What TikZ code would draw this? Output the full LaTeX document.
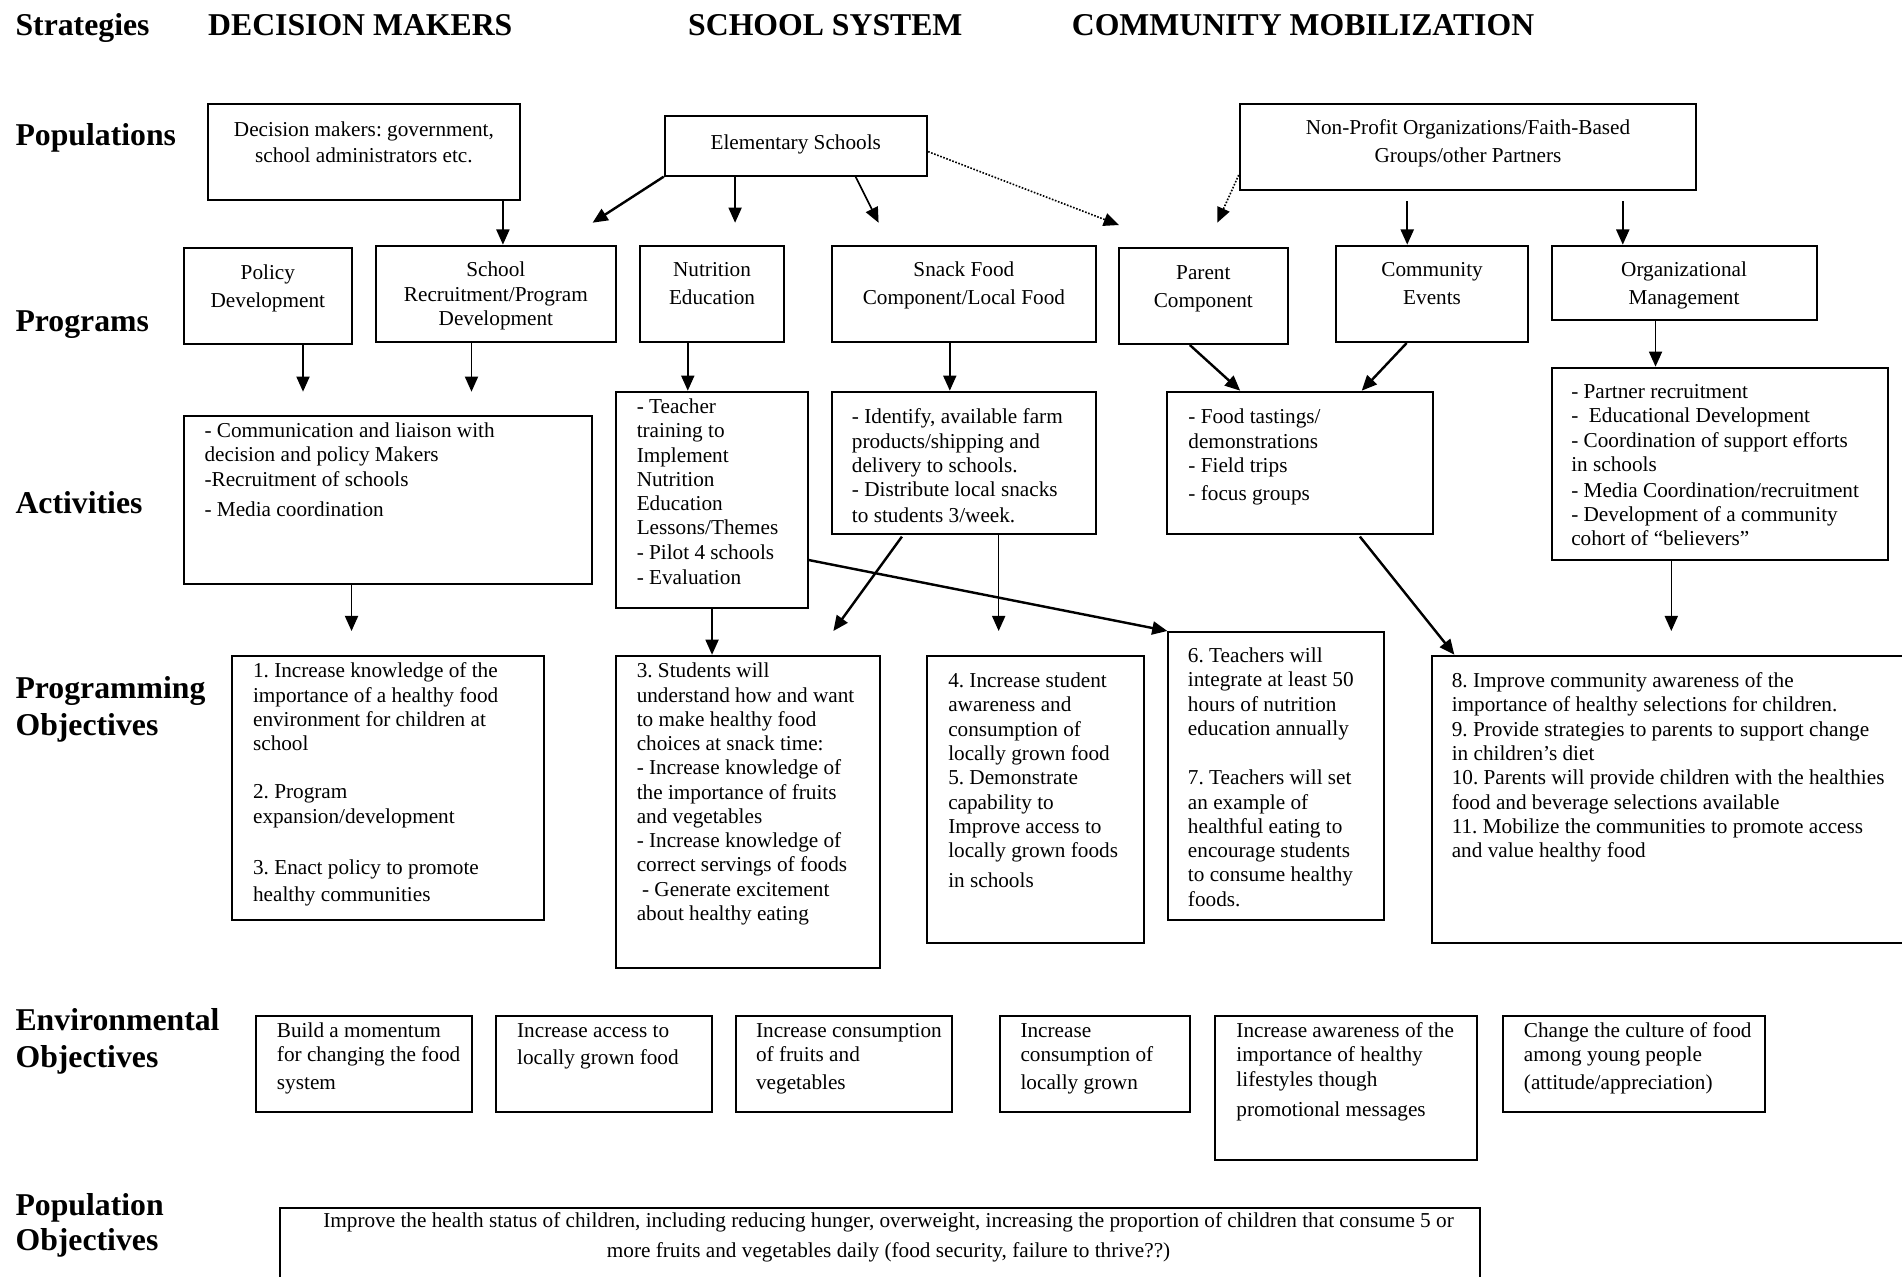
\documentclass[tikz,border=0pt]{standalone}
\usepackage{fontspec}
\setmainfont{Liberation Serif}
\usetikzlibrary{arrows.meta,fit}
\frenchspacing
\newcommand\mkbox[5]{\node[box,fit={(#2,#3) (#4,#5)}] (#1) {};}
\newcommand\bodytxt[4]{\node[txt] (#1) at (#2,{#3-8}) {\strut #4};}
\newcommand\centtxt[4]{\node[ctxt] (#1) at (#2,{#3-8}) {\strut #4};}
\begin{document}
\begin{tikzpicture}[x=0.6pt,y=-0.6pt,
  box/.style={draw,line width=1pt,inner sep=0pt},
  txt/.style={inner sep=0pt,align=left,anchor=north west,font=\fontsize{10.5}{12}\selectfont},
  ctxt/.style={inner sep=0pt,align=center,anchor=north,font=\fontsize{10.5}{12}\selectfont},
  head/.style={inner sep=0pt,anchor=base west,font=\fontsize{15.7}{18}\selectfont\bfseries},
  headtwo/.style={inner sep=0pt,anchor=north west,align=left,font=\fontsize{15.7}{18}\selectfont\bfseries},
  arr/.style={line width=0.8pt,-{Triangle[length=7.5pt,width=6.5pt]}},
  thick arr/.style={line width=1.2pt,-{Triangle[length=7.5pt,width=6.5pt]}},
  dot arr/.style={line width=0.8pt,dash pattern=on 0.8pt off 0.8pt,-{Triangle[length=7.5pt,width=6.5pt]}},
]
\fill[white] (0,0) rectangle (1568,1052);
\useasboundingbox (0,0) rectangle (1568,1052);
\clip (0,0) rectangle (1568,1052);

% headings
\node[head] (hstr) at (12.5,29.5) {Strategies};
\node[head] (hdm) at (171.3,29.5) {DECISION MAKERS};
\node[head] (hss) at (567,29.5) {SCHOOL SYSTEM};
\node[head] (hcm) at (883.3,29.5) {COMMUNITY MOBILIZATION};
\node[head] (lpop) at (12.5,120) {Populations};
\node[head] (lprog) at (12.5,273) {Programs};
\node[head] (lact) at (12.5,423) {Activities};
\node[headtwo] (lpo) at (12.5,{575.5-21}) {\strut Programming\\[0.3pt]Objectives};
\node[headtwo] (leo) at (12.5,{849-21}) {\strut Environmental\\[0.3pt]Objectives};
\node[headtwo] (lpp) at (12.5,{1001.5-21}) {\strut Population\\[-0.6pt]Objectives};

% populations
\mkbox{dm}{171.3}{85.5}{428.7}{164.9}
\mkbox{es}{548}{95.6}{764.3}{144.8}
\mkbox{np}{1022}{85.5}{1398.4}{156.6}
\centtxt{dmt}{300}{105.8}{Decision makers: government,\\[1.2pt]school administrators etc.}
\centtxt{est}{656}{116.8}{Elementary Schools}
\centtxt{npt}{1210.2}{104.4}{Non-Profit Organizations/Faith-Based\\[2pt]Groups/other Partners}

% programs
\mkbox{pd}{151.4}{204.2}{290.2}{283.6}
\mkbox{sr}{309.7}{202.5}{508}{282}
\mkbox{ne}{527.6}{202.5}{646.4}{282}
\mkbox{sf}{685.9}{202.5}{903.3}{282}
\mkbox{pc}{922.8}{204.2}{1061.5}{283.6}
\mkbox{ce}{1101.6}{202.5}{1259.7}{282}
\mkbox{om}{1279.2}{202.5}{1497.5}{263.8}
\centtxt{pdt}{220.8}{224}{Policy\\[2pt]Development}
\centtxt{srt}{408.8}{222}{School\\Recruitment/Program\\Development}
\centtxt{net}{587}{222}{Nutrition\\[1.6pt]Education}
\centtxt{sft}{794.6}{222}{Snack Food\\[1.6pt]Component/Local Food}
\centtxt{pct}{992}{224}{Parent\\[1.7pt]Component}
\centtxt{cet}{1180.6}{222}{Community\\[1.6pt]Events}
\centtxt{omt}{1388.3}{222}{Organizational\\[1.6pt]Management}

% activities
\mkbox{a1}{151.4}{343}{488.1}{481.5}
\mkbox{a2}{507.6}{322.9}{666}{501}
\mkbox{a3}{686}{322.9}{903.3}{440.2}
\mkbox{a4}{962.4}{322.9}{1181.1}{440.2}
\mkbox{a5}{1279.2}{303.1}{1556.5}{461.7}
\bodytxt{a1t}{168.3}{354.5}{- Communication and liaison with\\decision and policy Makers\\-Recruitment of schools\\[2.8pt]- Media coordination}
\bodytxt{a2t}{524.6}{334.7}{- Teacher\\training to\\Implement\\Nutrition\\Education\\Lessons/Themes\\- Pilot 4 schools\\[0.7pt]- Evaluation}
\bodytxt{a3t}{702}{343}{- Identify, available farm\\products/shipping and\\delivery to schools.\\- Distribute local snacks\\[0.8pt]to students 3/week.}
\bodytxt{a4t}{979.4}{343}{- Food tastings/\\demonstrations\\- Field trips\\[2pt]- focus groups}
\bodytxt{a5t}{1295}{322.3}{- Partner recruitment\\-\ \ Educational Development\\- Coordination of support efforts\\in schools\\[0.8pt]- Media Coordination/recruitment\\- Development of a community\\cohort of “believers”}

% programming objectives
\mkbox{p1}{191.3}{540.6}{448.6}{758.5}
\mkbox{p2}{507.6}{540.6}{725.5}{797.8}
\mkbox{p3}{764.6}{540.6}{942.7}{777.7}
\mkbox{p4}{963.2}{521}{1140.7}{758.5}
\mkbox{p5}{1180.2}{540.6}{1590}{777.7}
\bodytxt{p1t}{208.3}{552.4}{1. Increase knowledge of the\\importance of a healthy food\\environment for children at\\school\\[11.9pt]2. Program\\expansion/development\\[13.6pt]3. Enact policy to promote\\[1.2pt]healthy communities}
\bodytxt{p2t}{524.6}{552.4}{3. Students will\\understand how and want\\to make healthy food\\choices at snack time:\\- Increase knowledge of\\the importance of fruits\\and vegetables\\- Increase knowledge of\\correct servings of foods\\~- Generate excitement\\about healthy eating}
\bodytxt{p3t}{781.4}{560.6}{4. Increase student\\awareness and\\consumption of\\locally grown food\\5. Demonstrate\\capability to\\Improve access to\\locally grown foods\\[2.8pt]in schools}
\bodytxt{p4t}{979}{540}{6. Teachers will\\integrate at least 50\\hours of nutrition\\education annually\\[12.4pt]7. Teachers will set\\an example of\\healthful eating to\\encourage students\\to consume healthy\\foods.}
\bodytxt{p5t}{1196.5}{560.6}{8. Improve community awareness of the\\importance of healthy selections for children.\\9. Provide strategies to parents to support change\\in children’s diet\\10. Parents will provide children with the healthies\\food and beverage selections available\\11. Mobilize the communities to promote access\\and value healthy food}

% environmental objectives
\mkbox{e1}{211}{837.3}{389}{916.5}
\mkbox{e2}{409}{837.3}{587}{916.5}
\mkbox{e3}{607}{837.3}{785}{916.5}
\mkbox{e4}{824}{837.3}{981}{916.5}
\mkbox{e5}{1002}{837.3}{1218}{956.3}
\mkbox{e6}{1239}{837.3}{1455}{916.5}
\bodytxt{e1t}{228}{849}{Build a momentum\\for changing the food\\[1.6pt]system}
\bodytxt{e2t}{426}{849}{Increase access to\\[1.2pt]locally grown food}
\bodytxt{e3t}{623}{849}{Increase consumption\\of fruits and\\[1.6pt]vegetables}
\bodytxt{e4t}{841}{849}{Increase\\consumption of\\[1.6pt]locally grown}
\bodytxt{e5t}{1019}{849}{Increase awareness of the\\importance of healthy\\lifestyles though\\[3pt]promotional messages}
\bodytxt{e6t}{1256}{849}{Change the culture of food\\among young people\\[1.6pt](attitude/appreciation)}

% population objectives
\mkbox{po}{231}{995.6}{1220}{1080}
\centtxt{pot}{732.5}{1005.8}{Improve the health status of children, including reducing hunger, overweight, increasing the proportion of children that consume 5 or\\[2.8pt]more fruits and vegetables daily (food security, failure to thrive??)}

% free arrow ends
\coordinate (t1) at (488.5,183.6);
\coordinate (t2) at (606,183.6);
\coordinate (t3) at (724.3,183.6);
\coordinate (t4) at (922.4,185.5);
\coordinate (t5) at (1003.5,183.6);
\coordinate (t6) at (249.8,322.9);
\coordinate (t7) at (388.7,322.9);
\coordinate (t8) at (289.8,520.2);
\coordinate (t9) at (687,520.2);
\coordinate (t10) at (823.3,520.2);
\coordinate (t11) at (1377.8,520.2);

% connectors
\draw[arr] (dm.south -| 414.6,0) -- (sr.north -| 414.6,0);
\draw[thick arr] (es.south west) -- (t1);
\draw[arr] (es.south -| 606,0) -- (t2);
\draw[arr] (es.south -| 705.3,0) -- (t3);
\draw[dot arr] (es.east |- 0,125) -- (t4);
\draw[dot arr] (np.west |- 0,144.3) -- (t5);
\draw[arr,shorten <=5pt] (np.south -| 1160.1,0) -- (ce.north -| 1160.1,0);
\draw[arr,shorten <=5pt] (np.south -| 1337.8,0) -- (om.north -| 1337.8,0);
\draw[arr] (pd.south -| 249.8,0) -- (t6);
\draw[arr] (sr.south -| 388.7,0) -- (t7);
\draw[arr] (ne.south -| 567,0) -- (a2.north -| 567,0);
\draw[arr] (sf.south -| 783,0) -- (a3.north -| 783,0);
\draw[thick arr] (pc.south -| 980.9,0) -- (a4.north -| 1022.4,0);
\draw[thick arr] (ce.south -| 1159.6,0) -- (a4.north -| 1122.6,0);
\draw[arr] (om.south -| 1364.8,0) -- (a5.north -| 1364.8,0);
\draw[arr] (a1.south -| 289.8,0) -- (t8);
\draw[arr] (a2.south -| 587,0) -- (p2.north -| 587,0);
\draw[thick arr,shorten <=1pt] (a3.south -| 744.5,0) -- (t9);
\draw[arr] (a3.south -| 823.3,0) -- (t10);
\draw[thick arr] (a2.east |- 0,461.7) -- (p4.north west);
\draw[thick arr,shorten <=1pt] (a4.south -| 1120,0) -- (p5.north -| 1199,0);
\draw[arr] (a5.south -| 1377.8,0) -- (t11);
\end{tikzpicture}
\end{document}
